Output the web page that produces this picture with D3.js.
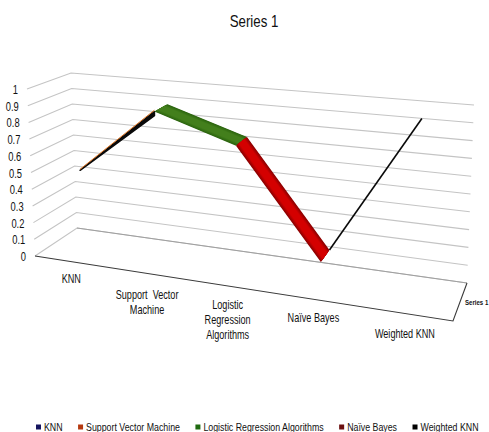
<!DOCTYPE html>
<html>
<head>
<meta charset="utf-8">
<script src="https://cdn.jsdelivr.net/npm/d3@7/dist/d3.min.js"></script>
<style>
html,body{margin:0;padding:0;background:#fff}
svg{display:block}
text{font-family:"Liberation Sans",sans-serif;fill:#111}
</style>
</head>
<body>
<svg id="chart" width="489" height="432"></svg>
<script>
// Chart content
const title = "Series 1";
const depthLabel = "Series 1";
const categories = ["KNN", "Support Vector Machine", "Logistic Regression Algorithms", "Naïve Bayes", "Weighted KNN"];
const categoryLines = [["KNN"], ["Support  Vector", "Machine"], ["Logistic", "Regression", "Algorithms"], ["Naïve Bayes"], ["Weighted KNN"]];
const values = [0.5, 0.9, 0.75, 0.15, 0.95];
const valueTicks = [0, 0.1, 0.2, 0.3, 0.4, 0.5, 0.6, 0.7, 0.8, 0.9, 1];
const swatchColors = ["#14145e", "#b5390f", "#1f6a10", "#6b0f0f", "#000000"];

// Box corners of the 3D frame, as [floor point, point at full value]
const frontLeft = [[35, 256], [27, 89]];
const backLeft = [[77, 228], [71, 73]];
const frontRight = [[453, 321], [461, 131]];
const backRight = [[467, 283], [474, 105]];

const svg = d3.select("#chart");

// Perspective along the category axis: nearer slots look wider than farther ones
const slot = d3.scalePoint().domain(categories).range([0, 1]).padding(0.5);
const perspective = 1.17;
const warp = t => t / (t + perspective * (1 - t));
const unit = d3.scaleLinear().domain([0, 1]).range([0, 1]);

function project(c, d, v) {
  const corner = k => {
    const at = q => d3.interpolateNumber(q[0][k], q[1][k])(unit(v));
    const front = d3.interpolateNumber(at(frontLeft), at(frontRight))(c);
    const back = d3.interpolateNumber(at(backLeft), at(backRight))(c);
    return d3.interpolateNumber(front, back)(d);
  };
  return [corner(0), corner(1)];
}
const catPos = name => warp(slot(name));
const line = d3.line();

// Places a horizontally condensed text; returns its drawn width
function label(parent, str, x, y, size, squeeze, anchor = "start", weight = "normal") {
  const t = parent.append("text")
    .attr("transform", `translate(${x},${y}) scale(${squeeze},1)`)
    .attr("text-anchor", anchor)
    .attr("font-size", size)
    .attr("font-weight", weight)
    .attr("xml:space", "preserve")
    .text(str);
  return t.node().getComputedTextLength() * squeeze;
}

// Walls and floor
const grid = svg.append("g").attr("fill", "none");
grid.selectAll("path.wall").data(valueTicks).join("path")
  .attr("class", "wall")
  .attr("d", v => line([project(0, 0, v), project(0, 1, v), project(1, 1, v)]))
  .attr("stroke", "#c4c4c4").attr("stroke-width", 1.1);
grid.append("path")
  .attr("d", line([project(0, 1, 0), project(1, 1, 0)]))
  .attr("stroke", "#a0a0a0").attr("stroke-width", 1.1);
grid.append("path")
  .attr("d", line([project(0, 0, 0), project(1, 0, 0), project(1, 1, 0)]))
  .attr("stroke", "#3a3a3a").attr("stroke-width", 1.1);

// Value axis labels, right-aligned against the leaning left edge
const tickGroup = svg.append("g");
valueTicks.forEach(v => {
  const p = project(0, 0, v);
  label(tickGroup, d3.format("")(v), p[0] - 9, p[1] + 5, 13, 0.72, "end");
});

// Ribbon segments between neighbouring categories
const points = categories.map((name, i) => ({ c: catPos(name), v: values[i] }));
const edges = d3.pairs(points);
const marks = svg.append("g");

// A full-width band is painted as nested layers, from a dark rim in to a bright centre
const bandNear = 0.3, bandFar = 0.67;
function band(a, b, dark, mid) {
  const tone = d3.scaleLinear().domain([0, 1]).range([dark, mid]).interpolate(d3.interpolateRgb);
  const layers = 6;
  d3.range(layers).forEach(i => {
    const inset = (bandFar - bandNear) * 0.3 * i / layers;
    const d0 = bandNear + inset, d1 = bandFar - inset;
    marks.append("path")
      .attr("d", line([project(a.c, d0, a.v), project(b.c, d0, b.v), project(b.c, d1, b.v), project(a.c, d1, a.v)]) + "Z")
      .attr("fill", tone(i / (layers - 1)));
  });
}

// The first stretch is seen almost edge-on: an orange rim over a black underside, tapering to a point
const [knn, svm] = edges[0];
marks.append("path")
  .attr("d", line([project(knn.c, bandNear, knn.v), project(svm.c, bandNear, svm.v), project(svm.c, bandNear, svm.v - 0.024)]) + "Z")
  .attr("fill", "#0a0a0a").attr("stroke", "#0a0a0a").attr("stroke-width", 1.5).attr("stroke-linejoin", "round");
marks.append("path")
  .attr("d", line([project(knn.c, bandNear, knn.v + 0.006), project(svm.c, bandNear, svm.v + 0.008)]))
  .attr("stroke", "#d9701e").attr("stroke-width", 1).attr("fill", "none");

band(edges[1][0], edges[1][1], "#2c6510", "#437f1c");
band(edges[2][0], edges[2][1], "#8c0000", "#d40000");

// The last stretch is a thin black line rising from the far side of the band
marks.append("path")
  .attr("d", line([project(edges[3][0].c, bandFar, edges[3][0].v), project(edges[3][1].c, bandFar, edges[3][1].v)]))
  .attr("stroke", "#0a0a0a").attr("stroke-width", 1.6).attr("fill", "none");

// Title and depth axis label
label(svg, title, 254, 27, 16, 0.83, "middle");
label(svg, depthLabel, 465, 305, 8, 0.76, "start", "bold");

// Category labels hang below the front floor edge
const labelDrop = [17, 22, 19, 19, 20];
const categoryGroup = svg.append("g");
categories.forEach((name, i) => {
  const p = project(catPos(name), 0, 0);
  categoryLines[i].forEach((row, j) => {
    label(categoryGroup, row, p[0], p[1] + labelDrop[i] + 4 + j * 15, 12, 0.76, "middle");
  });
});

// Legend row, laid out from measured text widths
let legendX = 36;
const legendY = 427;
const legend = svg.append("g");
categories.forEach((name, i) => {
  legend.append("rect").attr("x", legendX).attr("y", legendY - 2.5).attr("width", 5).attr("height", 5).attr("fill", swatchColors[i]);
  legendX += 8 + label(legend, name, legendX + 8, legendY + 4, 11, 0.8) + 15.5;
});
</script>
</body>
</html>
